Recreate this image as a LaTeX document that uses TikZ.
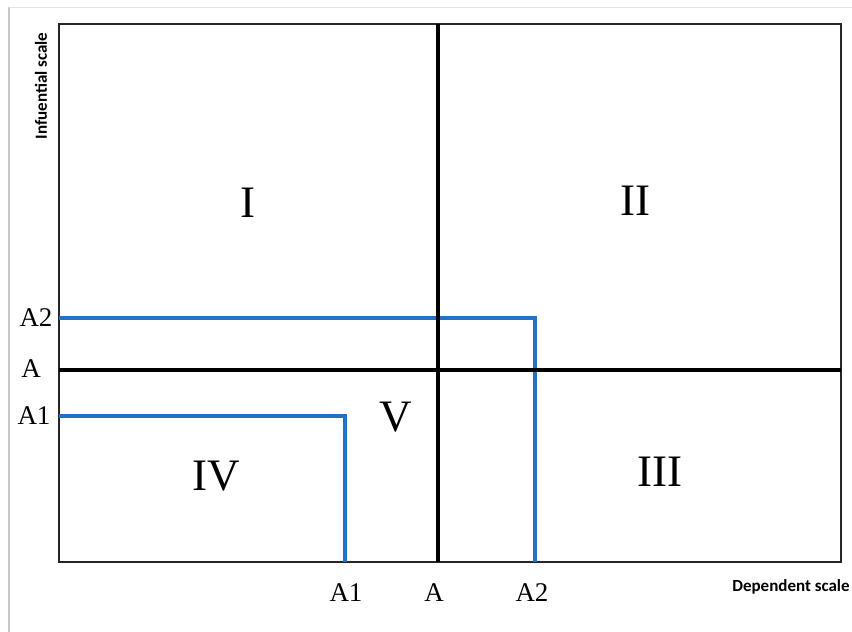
\documentclass[tikz,border=0pt]{standalone}
\usepackage{fontspec}
\setmainfont{Liberation Serif}
\newfontfamily\axisfont{Carlito}
\definecolor{lineblue}{RGB}{35,112,196}
\definecolor{framegray}{RGB}{200,200,200}
\begin{document}
\begin{tikzpicture}[x=1pt,y=-1pt,
  quad/.style={font=\fontsize{45}{45}\selectfont, inner sep=0pt},
  tick/.style={font=\fontsize{27}{27}\selectfont, inner sep=0pt},
  axislabel/.style={font=\axisfont\bfseries\fontsize{17}{17}\selectfont, inner sep=0pt},
  bluel/.style={draw=lineblue, line width=3.2pt},
  blackl/.style={draw=black, line width=3.4pt},
  framel/.style={draw=black!85, line width=2.4pt}]
\useasboundingbox (0,0) rectangle (852,632);
\fill[white] (0,0) rectangle (852,632);
% faint page edges
\coordinate (pgTL) at (9,7);
\coordinate (pgBL) at (9,632);
\coordinate (pgTR) at (852,7);
\draw[framegray, line width=2pt] (pgTL) -- (pgBL);
\draw[framegray!50, line width=1pt] (pgTL) -- (pgTR);
% frame
\coordinate (TL) at (59,24);
\coordinate (BR) at (841,562);
\draw[framel] (TL) rectangle (BR);
% coordinates
\coordinate (midTop) at (438,24);
\coordinate (midBot) at (438,562);
\coordinate (aLeft) at (59,370);
\coordinate (aRight) at (841,370);
\coordinate (a2L) at (59,318);
\coordinate (a2C) at (535,318);
\coordinate (a2B) at (535,562);
\coordinate (a1L) at (59,416);
\coordinate (a1C) at (345,416);
\coordinate (a1B) at (345,562);
% blue lines
\draw[bluel] (a2L) -- (a2C) -- (a2B);
\draw[bluel] (a1L) -- (a1C) -- (a1B);
% black axes
\draw[blackl] (midTop) -- (midBot);
\draw[blackl] (aLeft) -- (aRight);
% quadrant labels
\node[quad] (q1) at (248,203) {I};
\node[quad] (q2) at (635,201) {II};
\node[quad] (q5) at (396,417) {V};
\node[quad] (q4) at (216,476) {IV};
\node[quad] (q3) at (660,472) {III};
% left ticks
\node[tick] (lA2) at (36,318) {A2};
\node[tick] (lA) at (31,369) {A};
\node[tick] (lA1) at (34,416) {A1};
% bottom ticks
\node[tick] (bA1) at (346,593) {A1};
\node[tick] (bA) at (434,593) {A};
\node[tick] (bA2) at (532,593) {A2};
% axis titles
\node[axislabel] (xlab) at (791,587) {Dependent scale};
\node[axislabel, rotate=90] (ylab) at (41,86) {Infuential scale};
\end{tikzpicture}
\end{document}
